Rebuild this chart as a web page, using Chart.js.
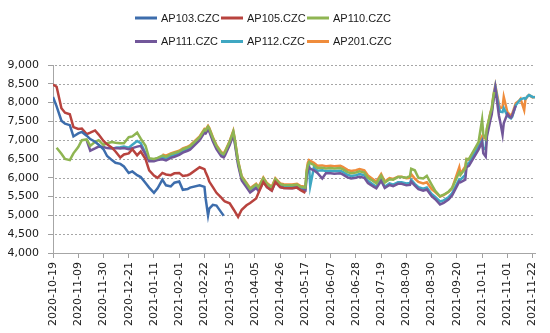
<!DOCTYPE html>
<html>
<head>
<meta charset="utf-8">
<script src="https://cdn.jsdelivr.net/npm/chart.js@4/dist/chart.umd.min.js"></script>
<style>
html,body{margin:0;padding:0;background:#fff;}
#wrap{width:550px;height:333px;position:relative;}
</style>
</head>
<body>
<div id="wrap"><canvas id="c" width="550" height="333"></canvas></div>
<script>
// ---- data ----
const dates = [
'2020-10-19','2020-10-22','2020-10-26','2020-10-29','2020-11-02','2020-11-05','2020-11-09','2020-11-12','2020-11-16','2020-11-19',
'2020-11-23','2020-11-26','2020-11-30','2020-12-03','2020-12-07','2020-12-10','2020-12-14','2020-12-17','2020-12-21','2020-12-24',
'2020-12-28','2020-12-31','2021-01-04','2021-01-07','2021-01-11','2021-01-14','2021-01-18','2021-01-21','2021-01-25','2021-01-28',
'2021-02-01','2021-02-04','2021-02-08','2021-02-10','2021-02-18','2021-02-22','2021-02-23','2021-02-25','2021-02-26','2021-03-01',
'2021-03-04','2021-03-08','2021-03-10','2021-03-11','2021-03-15','2021-03-18','2021-03-19','2021-03-22','2021-03-25','2021-03-29',
'2021-04-01','2021-04-06','2021-04-08','2021-04-12','2021-04-15','2021-04-19','2021-04-22','2021-04-26','2021-04-29','2021-05-06',
'2021-05-10','2021-05-13','2021-05-17','2021-05-18','2021-05-19','2021-05-20','2021-05-21','2021-05-24','2021-05-27','2021-05-31',
'2021-06-03','2021-06-07','2021-06-10','2021-06-15','2021-06-17','2021-06-21','2021-06-24','2021-06-28','2021-07-01','2021-07-05',
'2021-07-08','2021-07-12','2021-07-15','2021-07-19','2021-07-22','2021-07-26','2021-07-29','2021-08-02','2021-08-05','2021-08-09',
'2021-08-12','2021-08-13','2021-08-16','2021-08-19','2021-08-23','2021-08-26','2021-08-30','2021-09-02','2021-09-06','2021-09-09',
'2021-09-13','2021-09-16','2021-09-22','2021-09-23','2021-09-27','2021-09-28','2021-09-30','2021-10-08','2021-10-11','2021-10-12',
'2021-10-14','2021-10-15','2021-10-18','2021-10-19','2021-10-20','2021-10-21','2021-10-22','2021-10-25','2021-10-26','2021-10-28',
'2021-10-29','2021-11-01','2021-11-03','2021-11-04','2021-11-05','2021-11-08','2021-11-11','2021-11-12','2021-11-15','2021-11-16',
'2021-11-18','2021-11-19','2021-11-22','2021-11-24'
];

const seriesNames = ['AP103.CZC','AP105.CZC','AP110.CZC','AP111.CZC','AP112.CZC','AP201.CZC'];

const ap103 = [
8150,7900,7520,7440,7400,7100,7180,7220,7120,7030,
6960,6880,6760,6580,6470,6400,6370,6300,6130,6170,
6070,6020,5860,5740,5600,5720,5950,5800,5770,5870,
5900,5680,5700,5740,5800,5760,5450,5000,5180,5280,
5260,5080,4990,null,null,null,null,null,null,null,
null,null,null,null,null,null,null,null,null,null,
null,null,null,null,null,null,null,null,null,null,
null,null,null,null,null,null,null,null,null,null,
null,null,null,null,null,null,null,null,null,null,
null,null,null,null,null,null,null,null,null,null,
null,null,null,null,null,null,null,null,null,null,
null,null,null,null,null,null,null,null,null,null,
null,null,null,null,null,null,null,null,null,null,
null,null,null,null
];

const ap105 = [
8480,8420,7850,7730,7690,7350,7300,7310,7160,7200,
7260,7150,6980,6890,6800,6700,6540,6620,6650,6760,
6600,6700,6500,6200,6060,6000,6130,6090,6070,6120,
6130,6050,6070,6100,6280,6230,6150,6000,5900,5750,
5600,5470,5400,5370,5320,5170,5120,4960,5150,5270,
5330,5450,5600,5890,5750,5660,5890,5750,5730,5720,
5740,5670,5600,null,null,null,null,null,null,null,
null,null,null,null,null,null,null,null,null,null,
null,null,null,null,null,null,null,null,null,null,
null,null,null,null,null,null,null,null,null,null,
null,null,null,null,null,null,null,null,null,null,
null,null,null,null,null,null,null,null,null,null,
null,null,null,null,null,null,null,null,null,null,
null,null,null,null
];

const ap110 = [
null,6800,6640,6500,6470,6650,6820,7000,7020,6850,
6960,7000,6870,6920,6950,6930,6920,6920,7080,7100,
7200,7040,6850,6520,6500,6530,6590,6560,6630,6660,
6700,6760,6810,6840,7080,7280,7260,7360,7310,7060,
6850,6660,6630,6680,6960,7230,7060,6430,6020,5840,
5700,5820,5740,5990,5840,5740,5970,5830,5810,5800,
5820,5760,5740,6150,6340,6410,6390,6340,6260,6270,
6250,6260,6250,6260,6230,6150,6120,6140,6170,6140,
6000,5920,5850,6060,5870,5960,5950,6020,6020,6000,
6050,6240,6200,6000,5980,6050,5820,5650,5510,5550,
5630,5730,6150,6080,6250,6500,6500,6950,7550,7150,
7050,7320,7730,7830,8080,8280,null,null,null,null,
null,null,null,null,null,null,null,null,null,null,
null,null,null,null
];

const ap111 = [
null,null,null,null,null,null,null,null,7000,6720,
6780,6830,6820,6790,6780,6790,6780,6790,6760,6790,
6830,6850,6620,6440,6440,6470,6490,6460,6530,6560,
6610,6670,6720,6750,7000,7200,7180,7280,7230,6970,
6760,6570,6540,6590,6870,7140,6970,6340,5930,5750,
5610,5730,5650,5900,5750,5660,5890,5750,5730,5720,
5740,5680,5660,6020,6200,6280,6240,6200,6130,5980,
6120,6120,6110,6120,6090,6010,5980,6000,6030,6000,
5860,5780,5720,5920,5730,5810,5780,5840,5840,5800,
5810,5900,5790,5700,5660,5690,5510,5430,5290,5330,
5420,5530,5900,5880,5950,6280,6320,6750,6950,6650,
6560,7100,7550,7680,7950,8180,8380,7650,7500,7150,
7450,7700,7620,7600,7650,7920,null,null,null,null,
null,null,null,null
];

const ap112 = [
null,null,null,null,null,null,null,null,null,null,
null,null,null,null,null,6800,6810,6830,6800,6880,
6980,6920,6650,6480,6480,6520,6540,6510,6580,6610,
6650,6710,6760,6790,7040,7240,7220,7320,7270,7020,
6810,6620,6590,6640,6920,7190,7020,6390,5980,5800,
5660,5780,5700,5950,5800,5700,5930,5790,5770,5760,
5780,5720,5700,6080,6270,6340,5780,6270,6190,6200,
6180,6190,6180,6190,6160,6080,6050,6070,6100,6070,
5920,5830,5760,5960,5760,5850,5820,5880,5880,5850,
5860,5950,5840,5750,5710,5740,5570,5490,5370,5400,
5480,5590,5960,5950,6080,6360,6390,6820,7000,6750,
6800,7200,7650,7760,8020,8230,8420,7850,7760,7750,
7850,7650,7600,7580,7620,7930,8050,8090,8120,8100,
8170,8200,8150,8140
];

const ap201 = [
null,null,null,null,null,null,null,null,null,null,
null,null,null,null,null,null,null,null,null,null,
null,null,null,null,null,null,6620,6590,6650,6680,
6720,6780,6830,6860,7100,7300,7280,7380,7330,7080,
6870,6680,6650,6700,6980,7250,7080,6450,6040,5860,
5720,5840,5760,6010,5860,5760,5990,5850,5830,5820,
5840,5780,5760,6200,6400,6470,6450,6400,6320,6330,
6310,6320,6310,6320,6290,6210,6180,6200,6230,6200,
6060,5970,5900,6100,5900,5990,5970,6030,6030,5990,
6000,6100,5980,5890,5850,5880,5700,5620,5500,5540,
5620,5720,6280,6100,6300,6500,6480,6900,7100,7050,
7050,7300,7750,7850,8100,8300,8460,7950,7850,7880,
8150,7750,7680,7640,7700,7980,8060,8100,7800,8080,
8180,8200,8140,8150
];

const yTicks = {min: 4000, max: 9000, step: 500};
const xTickStepDays = 21;
const startDate = '2020-10-19';
const endDate = '2021-11-24';

// ---- helpers ----
const DAY = 864e5;
const base = Date.parse(startDate + 'T00:00:00Z');
const dayOf = d => (Date.parse(d + 'T00:00:00Z') - base) / DAY;
const fmtDay = v => new Date(base + v * DAY).toISOString().slice(0, 10);

const colors = ['#3D6DAC', '#B8433E', '#8FB552', '#72579A', '#3FA7C2', '#EF8C3C'];
const allSeries = [ap103, ap105, ap110, ap111, ap112, ap201];

const datasets = allSeries.map((s, k) => ({
  label: seriesNames[k],
  data: dates.map((d, i) => ({x: dayOf(d), y: s[i]})).filter(p => p.y !== null),
  borderColor: colors[k],
  backgroundColor: colors[k],
  borderWidth: 2.5,
  pointRadius: 0,
  tension: 0,
  fill: false
}));

// dotted horizontal gridlines at the y scale's ticks
const dottedGrid = {
  id: 'dottedGrid',
  beforeDatasetsDraw(chart) {
    const {ctx, chartArea: a, scales: {y}} = chart;
    ctx.save();
    ctx.fillStyle = '#A6A6A6';
    y.ticks.forEach(t => {
      if (t.value === y.min) return;
      const py = Math.round(y.getPixelForValue(t.value));
      for (let x = Math.round(a.left) + 2; x < a.right; x += 4) {
        ctx.fillRect(x, py, 2, 1);
      }
    });
    ctx.restore();
  }
};

const legendPlugin = {
  id: 'twoRowLegend',
  afterDraw(chart) {
    const ctx = chart.ctx;
    const rows = [[0, 1, 2], [3, 4, 5]];
    const rowY = [18, 41.5];
    const itemX = [135, 221, 307];
    ctx.save();
    ctx.font = 'normal 11px "Liberation Sans", Arial, sans-serif';
    ctx.textBaseline = 'middle';
    ctx.textAlign = 'left';
    rows.forEach((row, r) => {
      row.forEach((i, j) => {
        const ds = chart.data.datasets[i];
        const x = itemX[j];
        ctx.strokeStyle = ds.borderColor;
        ctx.lineWidth = 3;
        ctx.beginPath();
        ctx.moveTo(x, rowY[r]);
        ctx.lineTo(x + 22, rowY[r]);
        ctx.stroke();
        ctx.fillStyle = '#1a1a1a';
        ctx.fillText(ds.label, x + 26, rowY[r] + 0.5);
      });
    });
    ctx.restore();
  }
};

Chart.defaults.font.family = '"DejaVu Sans", sans-serif';
Chart.defaults.color = '#1a1a1a';

new Chart(document.getElementById('c'), {
  type: 'line',
  data: {datasets},
  options: {
    responsive: false,
    animation: false,
    devicePixelRatio: 1,
    layout: {padding: {top: 65, right: 15, left: 0, bottom: 0}},
    plugins: {legend: {display: false}, tooltip: {enabled: false}},
    scales: {
      x: {
        type: 'linear',
        min: 0,
        max: dayOf(endDate),
        afterFit: s => { s.height = 80; },
        ticks: {
          stepSize: xTickStepDays,
          includeBounds: false,
          autoSkip: false,
          maxRotation: 90,
          minRotation: 90,
          padding: 4,
          font: {size: 11},
          callback: v => fmtDay(v)
        },
        grid: {drawOnChartArea: false, drawTicks: true, tickLength: 5, tickColor: '#A0A0A0'},
        border: {display: true, color: '#A6A6A6', width: 1}
      },
      y: {
        min: yTicks.min,
        max: yTicks.max,
        afterFit: s => { s.width = 53; },
        ticks: {
          stepSize: yTicks.step,
          padding: 9,
          font: {size: 11},
          callback: v => v.toLocaleString('en-US')
        },
        grid: {drawOnChartArea: false, drawTicks: true, tickLength: 5, tickColor: '#A0A0A0'},
        border: {display: true, color: '#A6A6A6', width: 1}
      }
    }
  },
  plugins: [dottedGrid, legendPlugin]
});
</script>
</body>
</html>
